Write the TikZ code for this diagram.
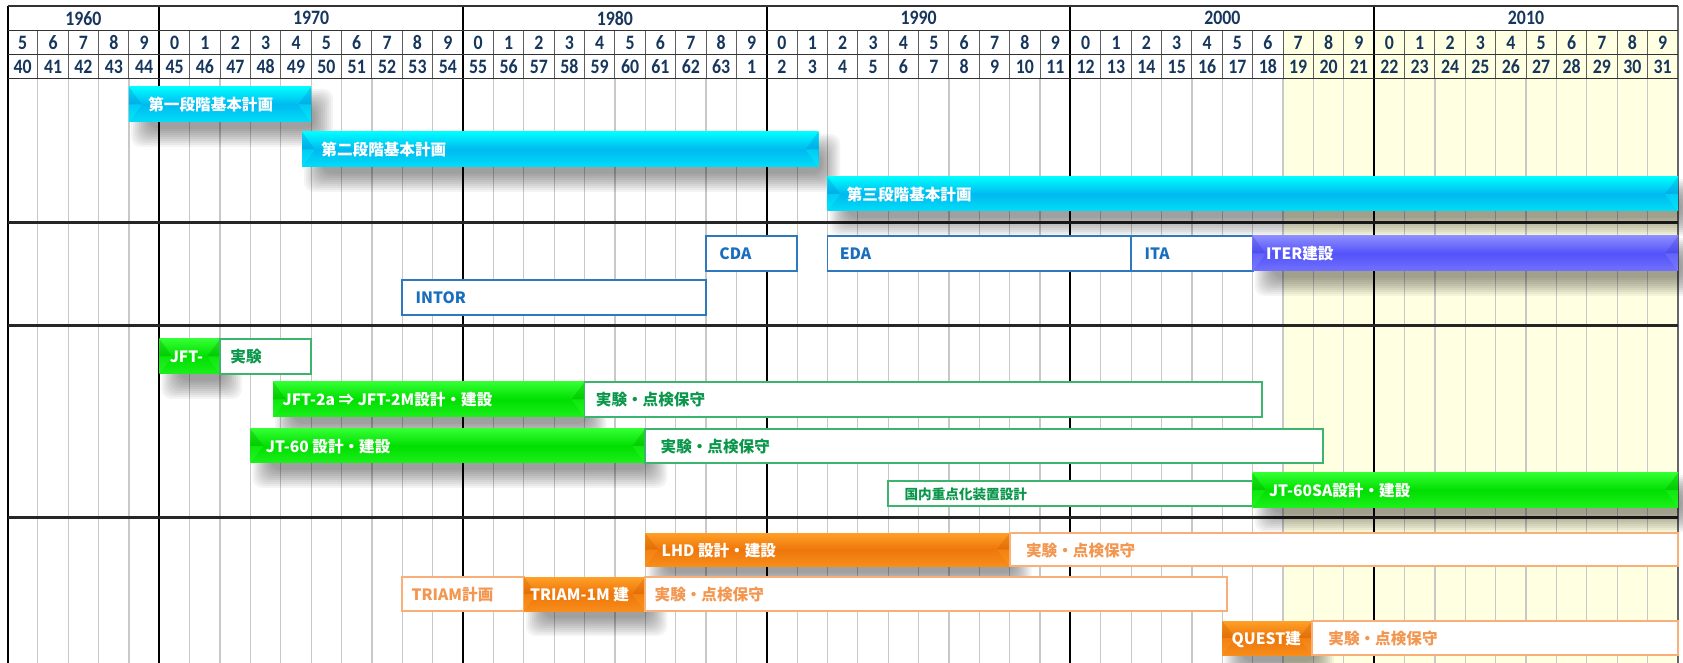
\documentclass[tikz,border=0pt]{standalone}
\usepackage{fontspec}
\usepackage{graphicx}
\newfontfamily\jp{Noto Sans CJK JP}
\newfontfamily\hdrf{Carlito}
\definecolor{yel}{RGB}{255,255,225}
\definecolor{gridg}{RGB}{200,200,200}
\definecolor{hdg}{RGB}{95,95,95}
\definecolor{navy}{RGB}{23,54,93}
\definecolor{cyanL}{RGB}{0,252,255}
\definecolor{cyanM}{RGB}{0,185,240}
\definecolor{cyanT}{RGB}{0,140,215}
\definecolor{purpL}{RGB}{140,140,255}
\definecolor{purpM}{RGB}{82,82,250}
\definecolor{purpT}{RGB}{60,60,215}
\definecolor{grnL}{RGB}{50,255,50}
\definecolor{grnM}{RGB}{0,222,0}
\definecolor{grnT}{RGB}{0,165,0}
\definecolor{orgL}{RGB}{255,160,40}
\definecolor{orgM}{RGB}{238,118,10}
\definecolor{orgT}{RGB}{205,95,0}
\definecolor{bluLine}{RGB}{46,120,190}
\definecolor{bluTxt}{RGB}{25,110,190}
\definecolor{grnLine}{RGB}{60,180,110}
\definecolor{grnTxt}{RGB}{10,150,75}
\definecolor{orgLine}{RGB}{250,175,120}
\definecolor{orgTxt}{RGB}{243,150,80}
\newcommand\mkshadow[4]{%
  \foreach \k in {0,...,9}{%
    \fill[black, opacity=0.042, rounded corners=5pt]
      ({#1+2+\k*2},{#2+2+\k*2}) rectangle ({#3+22-\k*2},{#4+25-\k*2});
  }}
\newcommand\bevelbar[5]{%
  \shade[top color=#5L, bottom color=#5L!55!#5M, middle color=#5M] ({#1},{#2}) rectangle ({#3},{#4});
  \fill[#5T, opacity=.32] ({#1},{#2}) -- ({#1+13},{(#2+#4)/2}) -- ({#1},{(#2+#4)/2}) -- cycle;
  \fill[#5L, opacity=.3] ({#1},{(#2+#4)/2}) -- ({#1+13},{(#2+#4)/2}) -- ({#1},{#4}) -- cycle;
  \fill[#5T, opacity=.32] ({#3},{#2}) -- ({#3-13},{(#2+#4)/2}) -- ({#3},{(#2+#4)/2}) -- cycle;
  \fill[#5L, opacity=.3] ({#3},{(#2+#4)/2}) -- ({#3-13},{(#2+#4)/2}) -- ({#3},{#4}) -- cycle;
}
\newcommand\hs[1]{\scalebox{1}[1.15]{#1}}
\begin{document}
\begin{tikzpicture}[x=0.5pt,y=-0.5pt,
  declare function={X(\q)=7.5+(\q-1965)*30.37;},
  yrline/.style={draw=gridg, line width=0.6pt},
  hdline/.style={draw=hdg, line width=0.5pt},
  decline/.style={draw=black, line width=1pt},
  hline/.style={draw=black!80, line width=0.8pt},
  secline/.style={draw=black!85, line width=1.3pt},
  ob/.style={draw=#1, fill=white, line width=0.9pt},
  hd/.style={inner sep=0pt, text=navy, font=\hdrf\bfseries\fontsize{8.9}{9}\selectfont},
  lab/.style={anchor=west, inner sep=0pt, text height=0.8em, text depth=0.15em, font=\jp\bfseries\fontsize{7.8}{8}\selectfont},
  wl/.style={lab, text=white},
  bl/.style={lab, text=bluTxt},
  gl/.style={lab, text=grnTxt},
  ol/.style={lab, text=orgTxt}]
\useasboundingbox (0,0) rectangle (1683,663);
\fill[white] (0,0) rectangle (1683,663);
% yellow area
\fill[yel] ({X(2007)},30.5) rectangle (1678,663);
% grid
\foreach \yr in {1966,...,2019} \draw[yrline] ({X(\yr)},78.5) -- ({X(\yr)},663);
\foreach \yr in {1966,...,2019} \draw[hdline] ({X(\yr)},30.5) -- ({X(\yr)},78.5);
\foreach \yr in {1970,1980,...,2010} \draw[decline] ({X(\yr)},6) -- ({X(\yr)},663);
\draw[decline] (7.5,6) -- (7.5,663);
\draw[draw=black!60, line width=0.8pt] (1678,6) -- (1678,663);
\foreach \yy in {6,30.5,54.5,78.5} \draw[hline] (7.5,\yy) -- (1678,\yy);
\foreach \yy in {222.3,325.7,517.3} \draw[secline] (7.5,\yy) -- (1678,\yy);
% header texts
\node[hd] (dec1960) at ({(7.5+X(1970))/2},18.3) {\hs{1960}};
\foreach \d in {1970,1980,1990,2000,2010}
  \node[hd] (dec\d) at ({X(\d+5)},18.3) {\hs{\d}};
\foreach \yr in {1965,...,2019}{
  \pgfmathtruncatemacro\dg{mod(\yr,10)}
  \pgfmathtruncatemacro\era{\yr<1989 ? \yr-1925 : \yr-1988}
  \node[hd] (dg\yr) at ({X(\yr+0.5)},42.5) {\hs{\dg}};
  \node[hd] (er\yr) at ({X(\yr+0.5)},66.5) {\hs{\era}};
}
% shadows
\mkshadow{X(1969)}{87}{X(1975)}{122}
\mkshadow{X(1974.7)}{132}{X(1991.7)}{167}
\mkshadow{X(1992)}{177}{1678}{211}
\mkshadow{X(2006)}{236}{1678}{271}
\mkshadow{X(1970)}{339}{X(1972)}{374}
\mkshadow{X(1973.75)}{382}{X(1984)}{417}
\mkshadow{X(1973)}{429}{X(1986)}{463}
\mkshadow{X(2006)}{473}{1678}{507}
\mkshadow{X(1986)}{533}{X(1998)}{566}
\mkshadow{X(1982)}{577}{X(1986)}{611}
\mkshadow{X(2005)}{621}{1312}{655}
% plan bars
\bevelbar{X(1969)}{87}{X(1975)}{122}{cyan}
\node[wl] (p1) at ({X(1969)+19},104.5) {第一段階基本計画};
\bevelbar{X(1974.7)}{132}{X(1991.7)}{167}{cyan}
\node[wl] (p2) at ({X(1974.7)+19},149.5) {第二段階基本計画};
\bevelbar{X(1992)}{177}{1678}{211}{cyan}
\node[wl] (p3) at ({X(1992)+19},194) {第三段階基本計画};
% ITER section
\draw[ob=bluLine] ({X(1988)},236) rectangle ({X(1991)},271);
\node[bl] (cda) at ({X(1988)+13},253.5) {CDA};
\draw[ob=bluLine] ({X(1992)},236) rectangle ({X(2002)},271);
\node[bl] (eda) at ({X(1992)+12},253.5) {EDA};
\draw[ob=bluLine] ({X(2002)},236) rectangle ({X(2006)},271);
\node[bl] (ita) at ({X(2002)+13},253.5) {ITA};
\bevelbar{X(2006)}{236}{1678}{271}{purp}
\node[wl] (iter) at ({X(2006)+13},253.5) {ITER建設};
\draw[ob=bluLine] ({X(1978)},280) rectangle ({X(1988)},315);
\node[bl] (intor) at ({X(1978)+13},297.5) {INTOR};
% JT section
\bevelbar{X(1970)}{339}{X(1972)}{374}{grn}
\node[wl] (jft) at ({X(1970)+10},356.5) {JFT-};
\draw[ob=grnLine] ({X(1972)},339) rectangle ({X(1975)},374);
\node[gl] (jftx) at ({X(1972)+10},356.5) {実験};
\bevelbar{X(1973.75)}{382}{X(1984)}{417}{grn}
\node[wl] (jft2) at ({X(1973.75)+9},399.5) {JFT-2a ⇒ JFT-2M設計・建設};
\draw[ob=grnLine] ({X(1984)},382) rectangle (1262,417);
\node[gl] (jft2x) at ({X(1984)+11},399.5) {実験・点検保守};
\bevelbar{X(1973)}{429}{X(1986)}{463}{grn}
\node[wl] (jt60) at ({X(1973)+15},446) {JT-60 設計・建設};
\draw[ob=grnLine] ({X(1986)},429) rectangle (1323,463);
\node[gl] (jt60x) at ({X(1986)+15},446) {実験・点検保守};
\draw[ob=grnLine] ({X(1994)},481) rectangle ({X(2006)},506);
\node[gl, font=\jp\bfseries\fontsize{6.8}{7}\selectfont] (kokunai) at ({X(1994)+16},493.5) {国内重点化装置設計};
\bevelbar{X(2006)}{473}{1678}{507}{grn}
\node[wl] (jt60sa) at ({X(2006)+16},490) {JT-60SA設計・建設};
% LHD section
\bevelbar{X(1986)}{533}{X(1998)}{566}{org}
\node[wl] (lhd) at ({X(1986)+16},549.5) {LHD 設計・建設};
\draw[ob=orgLine] ({X(1998)},533) rectangle (1678,566);
\node[ol] (lhdx) at ({X(1998)+16},549.5) {実験・点検保守};
\draw[ob=orgLine] ({X(1978)},577) rectangle ({X(1982)},611);
\node[ol] (triamp) at ({X(1978)+9},594) {TRIAM計画};
\bevelbar{X(1982)}{577}{X(1986)}{611}{org}
\node[wl] (triam) at ({X(1982)+6},594) {TRIAM-1M 建};
\draw[ob=orgLine] ({X(1986)},577) rectangle (1227,611);
\node[ol] (triamx) at ({X(1986)+9},594) {実験・点検保守};
\bevelbar{X(2005)}{621}{1312}{655}{org}
\node[wl] (quest) at ({X(2005)+9},638) {QUEST建};
\draw[ob=orgLine] (1312,621) rectangle (1678,655);
\node[ol] (questx) at (1328,638) {実験・点検保守};
\end{tikzpicture}
\end{document}
